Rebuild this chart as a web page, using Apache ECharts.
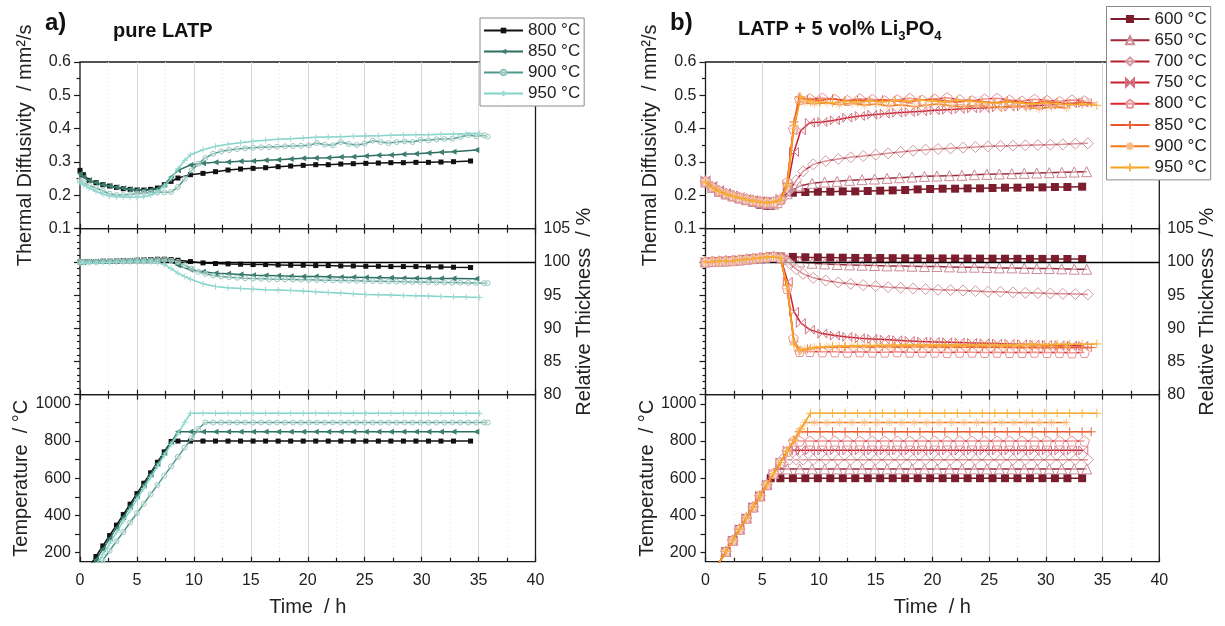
<!DOCTYPE html>
<html><head><meta charset="utf-8">
<script src="https://cdn.jsdelivr.net/npm/echarts@6/dist/echarts.min.js"></script>
<style>html,body{margin:0;padding:0;background:#fff}#c{width:1225px;height:626px}</style>
</head><body><div id="c"></div>
<script>
// ---------------- DATA ----------------
// Panel a) pure LATP : time (h), diffusivity (mm²/s), relative thickness (%), temperature (°C)
const tA800 = [0,0.3,0.8,1.4,2,2.6,3.2,3.8,4.4,5,5.6,6.2,6.8,7.4,8,8.6,9.7,10.8,11.9,13,14.1,15.2,16.3,17.4,18.5,19.6,20.7,21.8,22.9,24,25.1,26.2,27.3,28.4,29.5,30.6,31.7,32.8,34.3];
const dA800 = [0.275,0.262,0.245,0.238,0.232,0.228,0.224,0.220,0.218,0.216,0.216,0.218,0.222,0.232,0.242,0.252,0.262,0.266,0.271,0.276,0.279,0.281,0.283,0.286,0.288,0.290,0.292,0.292,0.294,0.295,0.296,0.297,0.298,0.298,0.299,0.299,0.300,0.301,0.303];
const hA800 = [100,100,100.05,100.05,100.1,100.1,100.15,100.2,100.2,100.25,100.3,100.35,100.4,100.4,100.35,100.25,100.05,99.85,99.75,99.7,99.65,99.6,99.6,99.55,99.5,99.5,99.45,99.45,99.4,99.4,99.35,99.35,99.3,99.3,99.3,99.25,99.25,99.2,99.15];
const TA800 = [47,75,122,178,235,291,347,404,460,517,573,629,686,742,798,800,800,800,800,800,800,800,800,800,800,800,800,800,800,800,800,800,800,800,800,800,800,800,800];

const tA850 = [0,0.3,0.8,1.4,2,2.6,3.2,3.8,4.4,5,5.6,6.2,6.8,7.4,8,8.6,9.7,10.8,11.9,13,14.1,15.2,16.3,17.4,18.5,19.6,20.7,21.8,22.9,24,25.1,26.2,27.3,28.4,29.5,30.6,31.7,32.8,34.8];
const dA850 = [0.265,0.255,0.245,0.238,0.232,0.228,0.224,0.221,0.218,0.216,0.215,0.216,0.220,0.232,0.255,0.275,0.291,0.296,0.299,0.300,0.302,0.303,0.305,0.307,0.309,0.311,0.312,0.313,0.315,0.316,0.318,0.320,0.321,0.323,0.325,0.327,0.329,0.331,0.336];
const hA850 = [100,100,100.05,100.05,100.1,100.1,100.15,100.2,100.2,100.25,100.3,100.3,100.3,100.25,100.1,99.5,98.8,98.5,98.3,98.2,98.1,98.0,97.95,97.9,97.85,97.8,97.8,97.75,97.7,97.7,97.65,97.6,97.6,97.55,97.55,97.5,97.5,97.5,97.45];
const TA850 = [25,54,102,160,217,275,332,390,448,505,563,620,678,735,793,850,850,850,850,850,850,850,850,850,850,850,850,850,850,850,850,850,850,850,850,850,850,850,850];

const tA900 = [0,0.3,0.8,1.4,2,2.6,3.2,3.8,4.4,5,5.6,6.2,6.8,7.4,8,8.6,9.2,9.8,10.4,11,11.7,12.4,13.1,13.8,14.5,15.2,15.9,16.6,17.3,18,18.7,19.4,20.1,20.8,21.5,22.2,22.9,23.6,24.3,25,25.7,26.4,27.1,27.8,28.5,29.2,29.9,30.6,31.3,32,32.7,33.4,34.1,34.8,35.5,35.8];
const dA900 = [0.245,0.238,0.230,0.222,0.214,0.205,0.201,0.201,0.203,0.205,0.207,0.208,0.209,0.209,0.210,0.225,0.250,0.275,0.295,0.312,0.325,0.332,0.336,0.339,0.341,0.343,0.344,0.345,0.346,0.347,0.348,0.349,0.350,0.357,0.352,0.350,0.360,0.354,0.351,0.355,0.364,0.360,0.357,0.360,0.362,0.360,0.366,0.365,0.368,0.369,0.370,0.375,0.381,0.377,0.380,0.376];
const hA900 = [100,100,100.05,100.05,100.1,100.1,100.15,100.15,100.2,100.2,100.25,100.25,100.3,100.3,100.2,100.0,99.5,99.0,98.5,98.2,97.95,97.8,97.7,97.62,97.55,97.5,97.46,97.42,97.4,97.38,97.35,97.32,97.3,97.28,97.25,97.22,97.2,97.18,97.15,97.12,97.1,97.08,97.05,97.03,97.0,96.98,96.96,96.94,96.92,96.9,96.88,96.86,96.84,96.82,96.8,96.8];
const TA900 = [25,30,60,105,158,209,260,310,361,411,462,513,563,614,664,715,765,816,866,900,900,900,900,900,900,900,900,900,900,900,900,900,900,900,900,900,900,900,900,900,900,900,900,900,900,900,900,900,900,900,900,900,900,900,900,900];

const tA950 = [0,0.3,0.8,1.4,2,2.6,3.2,3.8,4.4,5,5.6,6.2,6.8,7.4,8,8.6,9.2,9.7,10.8,11.9,13,14.1,15.2,16.3,17.4,18.5,19.6,20.7,21.8,22.9,24,25.1,26.2,27.3,28.4,29.5,30.6,31.7,32.8,33.9,35.1];
const dA950 = [0.238,0.232,0.222,0.212,0.204,0.198,0.196,0.195,0.194,0.194,0.196,0.200,0.210,0.228,0.250,0.280,0.305,0.322,0.337,0.347,0.353,0.358,0.362,0.365,0.368,0.370,0.372,0.374,0.375,0.376,0.377,0.378,0.379,0.380,0.381,0.382,0.382,0.383,0.384,0.385,0.386];
const hA950 = [99.8,99.8,99.85,99.85,99.9,99.9,99.95,99.95,100,100,100,100,99.9,99.6,99.0,98.3,97.8,97.4,96.7,96.3,96.1,96.0,95.9,95.8,95.75,95.7,95.6,95.5,95.4,95.3,95.2,95.1,95.05,95.0,94.95,94.9,94.85,94.8,94.75,94.7,94.65];
const TA950 = [0,20,71,130,190,249,308,368,427,486,545,605,664,723,782,841,901,950,950,950,950,950,950,950,950,950,950,950,950,950,950,950,950,950,950,950,950,950,950,950,950];

// Panel b) LATP + 5 vol% Li3PO4
const tB600 = [0,0.6,1.2,1.8,2.4,3,3.6,4.2,4.8,5.4,5.75,6.6,7.7,8.8,9.9,11,12.1,13.2,14.3,15.4,16.5,17.6,18.7,19.8,20.9,22,23.1,24.2,25.3,26.4,27.5,28.6,29.7,30.8,31.9,33.2];
const dB600 = [0.242,0.225,0.212,0.203,0.196,0.190,0.184,0.178,0.172,0.169,0.168,0.185,0.208,0.210,0.211,0.211,0.212,0.212,0.213,0.214,0.215,0.216,0.218,0.219,0.220,0.220,0.221,0.221,0.222,0.223,0.223,0.224,0.224,0.225,0.225,0.226];
const hB600 = [100,100.05,100.1,100.15,100.2,100.3,100.4,100.5,100.6,100.7,100.8,100.8,100.75,100.7,100.68,100.65,100.63,100.6,100.6,100.58,100.56,100.55,100.54,100.53,100.52,100.51,100.5,100.5,100.49,100.48,100.47,100.46,100.45,100.45,100.44,100.43];
const TB600 = [25,85,145,205,265,325,385,445,505,565,600,600,600,600,600,600,600,600,600,600,600,600,600,600,600,600,600,600,600,600,600,600,600,600,600,600];

const tB650 = [0,0.6,1.2,1.8,2.4,3,3.6,4.2,4.8,5.4,6,6.3,7.2,8.3,9.4,10.5,11.6,12.7,13.8,14.9,16,17.1,18.2,19.3,20.4,21.5,22.6,23.7,24.8,25.9,27,28.1,29.2,30.3,31.4,32.5,33.6];
const dB650 = [0.240,0.224,0.212,0.204,0.198,0.192,0.187,0.182,0.178,0.175,0.174,0.178,0.205,0.228,0.236,0.240,0.242,0.245,0.247,0.249,0.251,0.253,0.255,0.257,0.258,0.259,0.260,0.262,0.263,0.264,0.265,0.266,0.267,0.268,0.269,0.270,0.271];
const hB650 = [100,100.05,100.1,100.15,100.2,100.3,100.4,100.5,100.6,100.7,100.75,100.7,100.4,100.0,99.8,99.7,99.6,99.55,99.5,99.45,99.4,99.4,99.35,99.3,99.3,99.25,99.2,99.2,99.15,99.1,99.1,99.05,99.0,99.0,98.95,98.9,98.9];
const TB650 = [25,85,145,205,265,325,385,445,505,565,625,650,650,650,650,650,650,650,650,650,650,650,650,650,650,650,650,650,650,650,650,650,650,650,650,650,650];

const tB700 = [0,0.6,1.2,1.8,2.4,3,3.6,4.2,4.8,5.4,6,6.75,7.4,8,8.6,9.5,10.6,11.7,12.8,13.9,15,16.1,17.2,18.3,19.4,20.5,21.6,22.7,23.8,24.9,26,27.1,28.2,29.3,30.4,31.5,32.6,33.7];
const dB700 = [0.242,0.226,0.214,0.206,0.200,0.194,0.189,0.185,0.182,0.180,0.180,0.190,0.215,0.245,0.272,0.293,0.303,0.309,0.314,0.318,0.322,0.326,0.330,0.334,0.337,0.339,0.341,0.343,0.345,0.347,0.348,0.349,0.350,0.351,0.352,0.353,0.355,0.356];
const hB700 = [100,100.05,100.1,100.15,100.2,100.3,100.4,100.5,100.6,100.7,100.8,100.6,99.8,98.9,98.2,97.6,97.2,96.9,96.7,96.5,96.35,96.2,96.1,96.0,95.9,95.8,95.75,95.7,95.6,95.5,95.5,95.4,95.35,95.3,95.25,95.2,95.15,95.1];
const TB700 = [25,85,145,205,265,325,385,445,505,565,625,700,700,700,700,700,700,700,700,700,700,700,700,700,700,700,700,700,700,700,700,700,700,700,700,700,700,700];

const tB750 = [0,0.6,1.2,1.8,2.4,3,3.6,4.2,4.8,5.4,6,6.6,7.25,7.8,8.4,9.2,10.3,11.4,12.5,13.6,14.7,15.8,16.9,18,19.1,20.2,21.3,22.4,23.5,24.6,25.7,26.8,27.9,29,30.1,31.2,32.3,33.3];
const dB750 = [0.245,0.228,0.216,0.207,0.200,0.195,0.190,0.186,0.183,0.181,0.182,0.190,0.230,0.330,0.395,0.418,0.420,0.425,0.433,0.438,0.442,0.445,0.448,0.450,0.452,0.455,0.457,0.459,0.461,0.462,0.464,0.466,0.467,0.469,0.471,0.473,0.476,0.478];
const hB750 = [100,100.05,100.1,100.15,100.2,100.3,100.4,100.5,100.6,100.7,100.8,100.7,97.0,92.5,90.8,89.8,89.2,88.9,88.7,88.5,88.4,88.3,88.2,88.1,88.0,87.95,87.9,87.85,87.8,87.75,87.7,87.65,87.6,87.55,87.5,87.45,87.4,87.35];
const TB750 = [25,85,145,205,265,325,385,445,505,565,625,685,750,750,750,750,750,750,750,750,750,750,750,750,750,750,750,750,750,750,750,750,750,750,750,750,750,750];

const tB800 = [0,0.6,1.2,1.8,2.4,3,3.6,4.2,4.8,5.4,6,6.6,7.2,7.75,8.3,9.2,10.3,11.4,12.5,13.6,14.7,15.8,16.9,18,19.1,20.2,21.3,22.4,23.5,24.6,25.7,26.8,27.9,29,30.1,31.2,32.3,33.4];
const dB800 = [0.243,0.226,0.214,0.206,0.199,0.193,0.188,0.184,0.181,0.179,0.180,0.188,0.240,0.400,0.488,0.490,0.492,0.488,0.485,0.490,0.488,0.484,0.487,0.491,0.486,0.489,0.493,0.487,0.484,0.489,0.491,0.486,0.483,0.488,0.485,0.482,0.486,0.484];
const hB800 = [100,100.05,100.1,100.15,100.2,100.3,100.4,100.5,100.6,100.7,100.8,100.6,96.0,88.5,86.5,86.5,86.45,86.45,86.4,86.45,86.4,86.4,86.45,86.4,86.4,86.4,86.35,86.4,86.4,86.35,86.4,86.35,86.35,86.4,86.35,86.35,86.3,86.35];
const TB800 = [25,85,145,205,265,325,385,445,505,565,625,685,745,800,800,800,800,800,800,800,800,800,800,800,800,800,800,800,800,800,800,800,800,800,800,800,800,800];

const tB850 = [0,0.6,1.2,1.8,2.4,3,3.6,4.2,4.8,5.4,6,6.6,7.2,7.8,8.25,9,10.1,11.2,12.3,13.4,14.5,15.6,16.7,17.8,18.9,20,21.1,22.2,23.3,24.4,25.5,26.6,27.7,28.8,29.9,31,32.1,33.2,34];
const dB850 = [0.240,0.224,0.212,0.204,0.198,0.192,0.187,0.183,0.180,0.178,0.179,0.186,0.235,0.420,0.495,0.488,0.485,0.490,0.483,0.486,0.482,0.487,0.484,0.480,0.485,0.488,0.483,0.480,0.485,0.481,0.478,0.483,0.480,0.476,0.481,0.478,0.475,0.479,0.477];
const hB850 = [100,100.05,100.1,100.15,100.2,100.3,100.4,100.5,100.6,100.7,100.8,100.6,96.5,88.0,86.6,86.9,87.1,87.2,87.2,87.25,87.2,87.25,87.2,87.2,87.25,87.2,87.2,87.15,87.2,87.15,87.2,87.15,87.1,87.15,87.1,87.1,87.15,87.1,87.1];
const TB850 = [25,85,145,205,265,325,385,445,505,565,625,685,745,805,850,850,850,850,850,850,850,850,850,850,850,850,850,850,850,850,850,850,850,850,850,850,850,850,850];

const tB900 = [0,0.6,1.2,1.8,2.4,3,3.6,4.2,4.8,5.4,6,6.6,7.2,7.8,8.3,8.75,9.6,10.7,11.8,12.9,14,15.1,16.2,17.3,18.4,19.5,20.6,21.7,22.8,23.9,25,26.1,27.2,28.3,29.4,30.5,31.8];
const dB900 = [0.241,0.225,0.213,0.205,0.199,0.193,0.188,0.184,0.181,0.179,0.180,0.187,0.230,0.400,0.482,0.478,0.475,0.478,0.472,0.476,0.470,0.474,0.468,0.472,0.466,0.470,0.474,0.468,0.465,0.470,0.466,0.463,0.468,0.464,0.460,0.465,0.462];
const hB900 = [100,100.05,100.1,100.15,100.2,100.3,100.4,100.5,100.6,100.7,100.8,100.6,96.0,88.0,86.6,86.9,87.1,87.2,87.25,87.3,87.3,87.35,87.3,87.35,87.3,87.3,87.35,87.3,87.3,87.35,87.3,87.3,87.3,87.25,87.3,87.3,87.3];
const TB900 = [25,85,145,205,265,325,385,445,505,565,625,685,745,805,855,900,900,900,900,900,900,900,900,900,900,900,900,900,900,900,900,900,900,900,900,900,900];

const tB950 = [0,0.6,1.2,1.8,2.4,3,3.6,4.2,4.8,5.4,6,6.6,7.2,7.8,8.4,9.25,10.1,11.2,12.3,13.4,14.5,15.6,16.7,17.8,18.9,20,21.1,22.2,23.3,24.4,25.5,26.6,27.7,28.8,29.9,31,32.1,33.2,34.5];
const dB950 = [0.238,0.223,0.212,0.204,0.198,0.192,0.187,0.183,0.180,0.178,0.179,0.186,0.230,0.410,0.495,0.482,0.480,0.478,0.482,0.479,0.483,0.480,0.485,0.482,0.486,0.483,0.480,0.485,0.482,0.479,0.476,0.480,0.477,0.474,0.478,0.475,0.472,0.474,0.470];
const hB950 = [100,100.05,100.1,100.15,100.2,100.3,100.4,100.5,100.6,100.7,100.8,100.6,96.5,87.5,86.7,87.0,87.2,87.3,87.35,87.4,87.4,87.45,87.45,87.5,87.5,87.5,87.5,87.55,87.5,87.55,87.55,87.5,87.55,87.6,87.55,87.6,87.6,87.6,87.65];
const TB950 = [25,85,145,205,265,325,385,445,505,565,625,685,745,805,865,950,950,950,950,950,950,950,950,950,950,950,950,950,950,950,950,950,950,950,950,950,950,950,950];

const legendA = ['800 °C','850 °C','900 °C','950 °C'];
const legendB = ['600 °C','650 °C','700 °C','750 °C','800 °C','850 °C','900 °C','950 °C'];
const xTickValues = [0,5,10,15,20,25,30,35,40];
const diffTicks = [0.1,0.2,0.3,0.4,0.5,0.6];
const thickTicks = [80,85,90,95,100,105];
const tempTicks = [200,400,600,800,1000];
const tempMinorTicks = [200,300,400,500,600,700,800,900,1000];

// ---------------- CHART ----------------
const FONT = "'Liberation Sans', Arial, sans-serif";
const chart = echarts.init(document.getElementById('c'), null, {renderer: 'canvas'});
const panels = [{left: 80, width: 455.5}, {left: 705.5, width: 453.8}];
const rows = [{top: 62, height: 166.7}, {top: 228.7, height: 166}, {top: 394.7, height: 167}];
const tickStyle = {color: '#1a1a1a', width: 1.2};
const grid = [], xAxis = [], yAxis = [];
const mainX = [], mainY = [];

panels.forEach((p, pi) => rows.forEach((r, ri) => {
  const g = grid.length;
  grid.push({left: p.left, top: r.top, width: p.width, height: r.height, show: true,
    borderColor: '#1a1a1a', borderWidth: 1.3, backgroundColor: 'transparent'});
  mainX.push(xAxis.length);
  xAxis.push({gridIndex: g, type: 'value', min: xTickValues[0], max: xTickValues[xTickValues.length - 1], interval: 5, position: 'bottom',
    axisLine: {show: false},
    axisTick: {show: true, inside: true, length: 5, lineStyle: tickStyle},
    minorTick: {show: true, splitNumber: 2, length: 4, lineStyle: tickStyle},
    splitLine: {show: true, showMinLine: false, showMaxLine: false, lineStyle: {color: '#d6d6d6', width: 1}},
    minorSplitLine: {show: true, lineStyle: {color: '#e2e2e2', width: 1, type: [1, 3]}},
    axisLabel: {show: ri === 2, fontSize: 16, color: '#222', fontFamily: FONT, margin: 11},
    name: ri === 2 ? 'Time  / h' : '', nameLocation: 'middle', nameGap: 36,
    nameTextStyle: {fontSize: 20, color: '#222', fontFamily: FONT}});
  if (ri > 0) {
    xAxis.push({gridIndex: g, type: 'value', min: 0, max: 40, interval: 5, position: 'top',
      axisLine: {show: false},
      axisTick: {show: true, inside: true, length: 5, lineStyle: tickStyle},
      minorTick: {show: true, splitNumber: 2, length: 4, lineStyle: tickStyle},
      splitLine: {show: false}, axisLabel: {show: false}});
  }
  mainY.push(yAxis.length);
  if (ri === 0) {
    yAxis.push({gridIndex: g, type: 'value', min: diffTicks[0], max: diffTicks[diffTicks.length - 1], interval: 0.1, position: 'left',
      axisLine: {show: false},
      axisTick: {show: true, inside: false, length: 6, lineStyle: tickStyle},
      minorTick: {show: true, splitNumber: 2, length: 3.5, lineStyle: tickStyle},
      splitLine: {show: false},
      axisLabel: {fontSize: 16, color: '#222', fontFamily: FONT, margin: 9, formatter: v => v.toFixed(1)},
      name: 'Thermal Diffusivity  / mm²/s', nameLocation: 'middle', nameGap: 45, nameRotate: 90,
      nameTextStyle: {fontSize: 20, color: '#222', fontFamily: FONT}});
  } else if (ri === 1) {
    yAxis.push({gridIndex: g, type: 'value', min: thickTicks[0], max: thickTicks[thickTicks.length - 1], interval: 5, position: 'right',
      axisLine: {show: false},
      axisTick: {show: true, inside: true, length: 6, lineStyle: tickStyle},
      minorTick: {show: true, splitNumber: 5, length: 3, lineStyle: tickStyle},
      splitLine: {show: false},
      axisLabel: {fontSize: 16, color: '#222', fontFamily: FONT, margin: 8},
      name: 'Relative Thickness  / %', nameLocation: 'middle', nameGap: 33, nameRotate: 90,
      nameTextStyle: {fontSize: 20, color: '#222', fontFamily: FONT}});
  } else {
    yAxis.push({gridIndex: g, type: 'value', min: 150, max: 1050, position: 'left',
      axisLine: {show: false},
      axisTick: {show: true, inside: false, length: 5, lineStyle: tickStyle, customValues: tempMinorTicks},
      splitLine: {show: false},
      axisLabel: {fontSize: 16, color: '#222', fontFamily: FONT, margin: 9, customValues: tempTicks, formatter: v => String(v)},
      name: 'Temperature  / °C', nameLocation: 'middle', nameGap: 45, nameRotate: 90,
      nameTextStyle: {fontSize: 20, color: '#222', fontFamily: FONT}});
  }
}));

const PLUS = 'path://M5,0L5,10M0,5L10,5';
const BOWTIE = 'path://M0,0L10,10L10,0L0,10Z';
const PENTA = 'path://M5,0L10,3.6L8.1,9.5L1.9,9.5L0,3.6Z';
const ASTER = 'path://M5,0L5,10M0,5L10,5M1.6,1.6L8.4,8.4M8.4,1.6L1.6,8.4';

const specA = [
  {name: legendA[0], t: tA800, d: dA800, h: hA800, T: TA800, color: '#111111', symbol: 'rect', size: 5, item: {color: '#111111'}},
  {name: legendA[1], t: tA850, d: dA850, h: hA850, T: TA850, color: '#2d6e5f', symbol: 'triangle', rot: 90, size: 6, item: {color: '#3b7d6e'}},
  {name: legendA[2], t: tA900, d: dA900, h: hA900, T: TA900, color: '#4f9a8d', symbol: 'circle', size: 5, item: {color: 'rgba(255,255,255,0.4)', borderColor: '#98c6be', borderWidth: 1}},
  {name: legendA[3], t: tA950, d: dA950, h: hA950, T: TA950, color: '#80d3c9', symbol: PLUS, size: 6, item: {color: 'transparent', borderColor: '#9adad2', borderWidth: 1}}
];
const specB = [
  {name: legendB[0], t: tB600, d: dB600, h: hB600, T: TB600, color: '#7b1d2c', symbol: 'rect', size: 8, item: {color: '#7b1d2c'}},
  {name: legendB[1], t: tB650, d: dB650, h: hB650, T: TB650, color: '#9c2a3b', symbol: 'triangle', size: 10, item: {color: 'rgba(255,255,255,0.5)', borderColor: '#c98a95', borderWidth: 1}},
  {name: legendB[2], t: tB700, d: dB700, h: hB700, T: TB700, color: '#b32330', symbol: 'diamond', size: 11, item: {color: 'rgba(255,255,255,0.5)', borderColor: '#d39aa2', borderWidth: 1}},
  {name: legendB[3], t: tB750, d: dB750, h: hB750, T: TB750, color: '#c8202e', symbol: BOWTIE, size: 9, item: {color: 'transparent', borderColor: '#d4707e', borderWidth: 1}},
  {name: legendB[4], t: tB800, d: dB800, h: hB800, T: TB800, color: '#e0282b', symbol: PENTA, size: 10, item: {color: 'rgba(255,255,255,0.5)', borderColor: '#e59598', borderWidth: 1}},
  {name: legendB[5], t: tB850, d: dB850, h: hB850, T: TB850, color: '#e9542b', symbol: PLUS, size: 9, item: {color: 'transparent', borderColor: '#ec6a3e', borderWidth: 1}},
  {name: legendB[6], t: tB900, d: dB900, h: hB900, T: TB900, color: '#f37a1a', symbol: ASTER, size: 9, item: {color: 'transparent', borderColor: '#f8bd85', borderWidth: 0.8}},
  {name: legendB[7], t: tB950, d: dB950, h: hB950, T: TB950, color: '#f6a21f', symbol: PLUS, size: 9, item: {color: 'transparent', borderColor: '#f7b445', borderWidth: 1}}
];

function zip(t, v) { const out = []; for (let i = 0; i < t.length && i < v.length; i++) out.push([t[i], v[i]]); return out; }

const series = [];
[specA, specB].forEach((specs, pi) => {
  const prefix = pi === 0 ? 'a|' : 'b|';
  specs.forEach((s, si) => {
    ['d', 'h', 'T'].forEach((key, ri) => {
      const g = pi * 3 + ri;
      const ser = {
        type: 'line', name: prefix + s.name, xAxisIndex: mainX[g], yAxisIndex: mainY[g],
        data: zip(s.t, s[key]), showSymbol: true, showAllSymbol: true,
        symbol: s.symbol, symbolSize: s.size, symbolRotate: s.rot || 0,
        lineStyle: {color: s.color, width: 1.5}, itemStyle: s.item,
        emphasis: {disabled: true}, clip: true, z: 3 + si, animation: false
      };
      if (ri === 1 && si === 0) {
        ser.markLine = {silent: true, symbol: ['none', 'none'], label: {show: false},
          lineStyle: {color: '#000', type: 'solid', width: 1.3}, data: [{yAxis: 100}], animation: false};
      }
      series.push(ser);
    });
  });
});

const legendCommon = {orient: 'vertical', itemWidth: 39, itemGap: 4, selectedMode: false,
  backgroundColor: '#fff', borderColor: '#8a8a8a', borderWidth: 1, z: 20,
  textStyle: {fontSize: 17, color: '#222', fontFamily: FONT, lineHeight: 17},
  formatter: n => n.split('|')[1]};

const option = {
  backgroundColor: '#fff', animation: false,
  textStyle: {fontFamily: FONT},
  grid, xAxis, yAxis, series,
  legend: [
    Object.assign({}, legendCommon, {left: 480, top: 18, padding: [4, 4, 4, 3], itemHeight: 7,
      data: legendA.map(n => 'a|' + n)}),
    Object.assign({}, legendCommon, {left: 1106.5, top: 6.5, padding: [4, 4, 4, 3], itemHeight: 10, itemGap: 4.2,
      data: legendB.map(n => 'b|' + n)})
  ],
  graphic: [
    {type: 'text', left: 45, top: 11, z: 30, style: {text: 'a)', font: 'bold 24px ' + FONT, fill: '#111'}},
    {type: 'text', left: 113, top: 21, z: 30, style: {text: 'pure LATP', font: 'bold 20px ' + FONT, fill: '#111'}},
    {type: 'text', left: 670, top: 11, z: 30, style: {text: 'b)', font: 'bold 24px ' + FONT, fill: '#111'}},
    {type: 'text', left: 738, top: 19, z: 30, style: {
      text: '{b|LATP + 5 vol% Li}{s|3}{b|PO}{s|4}',
      rich: {
        b: {fontSize: 20, fontWeight: 'bold', fontFamily: FONT, fill: '#111', lineHeight: 24, verticalAlign: 'top'},
        s: {fontSize: 13, fontWeight: 'bold', fontFamily: FONT, fill: '#111', lineHeight: 14, verticalAlign: 'bottom'}
      }}}
  ]
};
chart.setOption(option);
</script>
</body></html>
